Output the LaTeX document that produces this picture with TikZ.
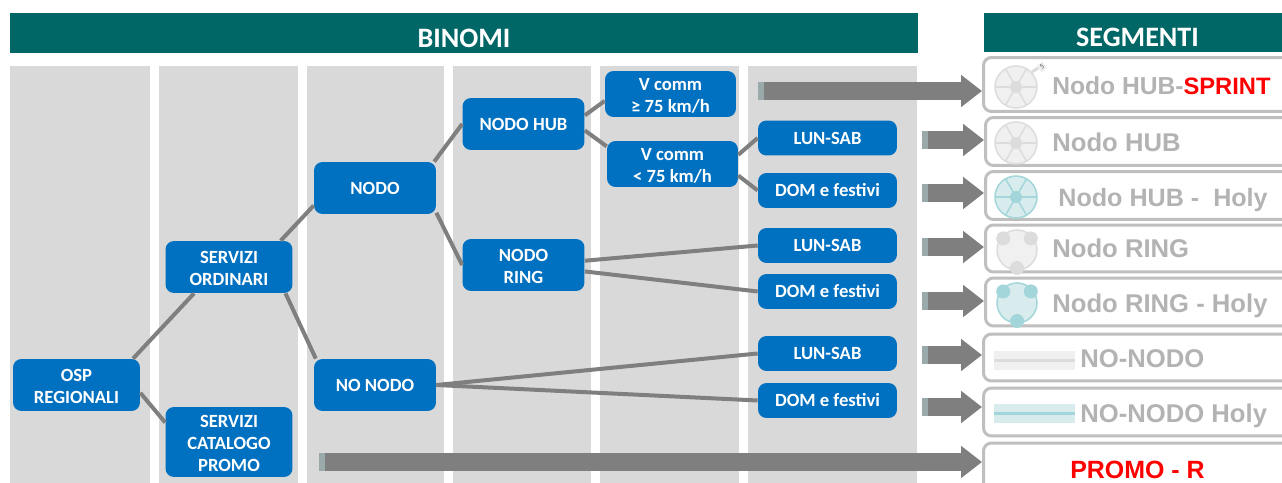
\documentclass[tikz,border=0pt]{standalone}
\usepackage{fontspec}
\setmainfont{Carlito}
\newfontfamily\segfont{Liberation Sans}
\usetikzlibrary{arrows.meta, positioning}

\definecolor{bandgreen}{HTML}{006666}
\definecolor{colgray}{HTML}{D9D9D9}
\definecolor{boxblue}{HTML}{0070C0}
\definecolor{linegray}{HTML}{7F7F7F}
\definecolor{seggray}{HTML}{BFBFBF}
\definecolor{segtext}{HTML}{B3B3B3}
\definecolor{tailgray}{HTML}{9AA9A9}
\definecolor{plainfill}{HTML}{F0F0F0}
\definecolor{plaindark}{HTML}{DCDCDC}
\definecolor{holyfill}{HTML}{D8ECEE}
\definecolor{holydark}{HTML}{A3D6DA}

\tikzset{
    band/.style={fill=bandgreen},
    bandtext/.style={text=white, font=\fontsize{16}{18}\selectfont\bfseries},
    bluebox/.style={fill=boxblue, text=white, rounded corners=0.17cm, align=center, inner sep=0pt,
        font=\fontsize{10.6}{12.6}\selectfont\bfseries},
    midbox/.style={bluebox, minimum width=2.44cm, minimum height=1.04cm},
    ordbox/.style={bluebox, minimum width=2.54cm, minimum height=1.04cm},
    speedbox/.style={bluebox, minimum width=2.62cm, minimum height=0.92cm},
    dayline/.style={bluebox, minimum width=2.78cm, minimum height=0.7cm},
    link/.style={draw=linegray, line width=0.08cm},
    bigarrow/.style={draw=linegray, line width=0.36cm, -{Triangle[length=0.42cm,width=0.62cm]}},
    segbox/.style={draw=seggray, line width=0.06cm, rounded corners=0.16cm, anchor=west,
        minimum width=6.6cm, inner sep=0pt},
    segname/.style={anchor=west, inner sep=0pt, text height=11pt, text depth=0pt, text=segtext,
        font=\segfont\fontsize{14.6}{16}\selectfont\bfseries},
}

% pushes two line labels down a little
\newcommand{\topstrut}{\rule{0pt}{8.8pt}}
% wheel with spokes
\newcommand{\hubicon}[4]{
    \fill[#3] (#1,#2) circle[radius=21];
    \draw[#4, line width=0.03cm] (#1,#2) circle[radius=21];
    \foreach \a in {0,60,...,300} \draw[#4, line width=0.03cm] (#1,#2) -- ++(\a:21);
    \fill[#4] (#1,#2) circle[radius=6];
}
% ring with three stations
\newcommand{\ringicon}[4]{
    \fill[#3] (#1,#2) circle[radius=20];
    \draw[#4, line width=0.03cm] (#1,#2) circle[radius=20];
    \foreach \a in {140,40,270} \fill[#4] (#1,#2) ++(\a:-18) circle[radius=7];
}
% straight line
\newcommand{\lineicon}[4]{
    \fill[#3] (994,#1) rectangle (1075,#2);
    \draw[#4, line width=0.05cm] (994,{(#1+#2)/2}) -- (1075,{(#1+#2)/2});
}

\begin{document}
\begin{tikzpicture}[x=0.02cm, y=-0.02cm]
    \clip (0,0) rectangle (1282,483);
    \fill[white] (0,0) rectangle (1282,483);

    % Headers
    \fill[band] (10,13) rectangle (918,53);
    \node[bandtext] (binomi) at (464,38) {BINOMI};
    \fill[band] (984,13) rectangle (1282,52);
    \node[bandtext] (segmenti) at (1137.5,37) {SEGMENTI};

    % Columns
    \foreach \xa/\xb in {10/150, 159/298, 307/444, 453/591, 600/739, 748/917}
        \fill[colgray] (\xa,66) rectangle (\xb,483);

    % Tree
    \node[ordbox] (osp) at (76.5,385) {\topstrut OSP\\REGIONALI};
    \node[ordbox] (ordinari) at (229,267) {\topstrut SERVIZI\\ORDINARI};
    \node[ordbox, minimum height=1.4cm] (catalogo) at (229,442) {\topstrut SERVIZI\\CATALOGO\\PROMO};
    \node[midbox] (nodo) at (375,188) {NODO};
    \node[midbox] (nonodo) at (375,385) {NO NODO};
    \node[midbox] (hub) at (523.5,124) {NODO HUB};
    \node[midbox] (ring) at (523.5,265) {\topstrut NODO\\RING};
    \node[speedbox] (fast) at (670.5,94) {\topstrut V comm\\≥ 75 km/h};
    \node[speedbox] (slow) at (672.5,164) {\topstrut V comm\\< 75 km/h};
    \node[dayline] (lunhub) at (827.5,138) {LUN-SAB};
    \node[dayline] (domhub) at (827.5,190.5) {DOM e festivi};
    \node[dayline] (lunring) at (827.5,245.5) {LUN-SAB};
    \node[dayline] (domring) at (827.5,291.5) {DOM e festivi};
    \node[dayline] (lunno) at (827.5,353.5) {LUN-SAB};
    \node[dayline] (domno) at (827.5,400.5) {DOM e festivi};

    % Connectors
    \draw[link] (osp.25) -- (ordinari.217);
    \draw[link] (osp.-7) -- (catalogo.163);
    \draw[link] (ordinari.27) -- (nodo.196);
    \draw[link] (ordinari.-25) -- (nonodo.156);
    \draw[link] (nodo.24) -- (hub.west);
    \draw[link] (nodo.-22) -- (ring.west);
    \draw[link] (hub.8) -- (fast.186);
    \draw[link] (hub.-6) -- (slow.165);
    \draw[link] (slow.8) -- (lunhub.west);
    \draw[link] (slow.-10) -- (domhub.west);
    \draw[link] (ring.4) -- (lunring.west);
    \draw[link] (ring.-6) -- (domring.west);
    \draw[link] (nonodo.east) -- (lunno.west);
    \draw[link] (nonodo.east) -- (domno.west);

    % Segments
    \node[segbox, minimum height=1.08cm] (seg1) at (982,84.5) {};
    \node[segbox, minimum height=0.96cm] (seg2) at (984,141.5) {};
    \node[segbox, minimum height=0.96cm] (seg3) at (984,195.5) {};
    \node[segbox, minimum height=0.94cm] (seg4) at (984,248.5) {};
    \node[segbox, minimum height=0.96cm] (seg5) at (984,302) {};
    \node[segbox, minimum height=0.94cm] (seg6) at (982,357.5) {};
    \node[segbox, minimum height=0.96cm] (seg7) at (982,412) {};
    \node[segbox, minimum height=1.4cm] (seg8) at (982,478) {};

    % Icons
    \hubicon{1016}{87}{plainfill}{plaindark}
    \draw[plaindark, line width=0.06cm] (1032,72) -- (1041,66);
    \node[fill=plainfill, rotate=35, inner sep=1pt, text=black!70, font=\fontsize{4}{4}\selectfont] (tag) at (1042,67) {5};
    \hubicon{1016}{143}{plainfill}{plaindark}
    \hubicon{1016}{197}{holyfill}{holydark}
    \ringicon{1017}{250}{plainfill}{plaindark}
    \ringicon{1017}{303}{holyfill}{holydark}
    \lineicon{351}{370}{plainfill}{plaindark}
    \lineicon{404}{423}{holyfill}{holydark}

    % Segment names
    \node[segname, font=\segfont\fontsize{14}{16}\selectfont\bfseries] (name1) at (1052,85) {Nodo HUB-\textcolor{red}{\fontsize{13.5}{16}\selectfont SPRINT}};
    \node[segname] (name2) at (1052,142) {Nodo HUB};
    \node[segname, font=\segfont\fontsize{14.3}{16}\selectfont\bfseries] (name3) at (1058,197) {Nodo HUB -\ \ Holy};
    \node[segname] (name4) at (1052,248) {Nodo RING};
    \node[segname] (name5) at (1052,303) {Nodo RING - Holy};
    \node[segname] (name6) at (1080,358) {NO-NODO};
    \node[segname] (name7) at (1080,413) {NO-NODO Holy};
    \node[segname, anchor=center, text=red, font=\segfont\fontsize{14.2}{16}\selectfont\bfseries] (name8) at (1137.5,469) {PROMO - R};

    % Arrows
    \coordinate (in1) at (758,91);
    \coordinate (in2) at (922,140);
    \coordinate (in3) at (922,193);
    \coordinate (in4) at (922,247);
    \coordinate (in5) at (922,301);
    \coordinate (in6) at (922,355);
    \coordinate (in7) at (922,407);
    \coordinate (in8) at (319,462);
    \foreach \i in {1,...,8} {
        \draw[bigarrow] (in\i) -- (in\i -| seg\i.west);
        \draw[tailgray, line width=0.36cm] (in\i) -- ++(6,0);
    }
\end{tikzpicture}
\end{document}
